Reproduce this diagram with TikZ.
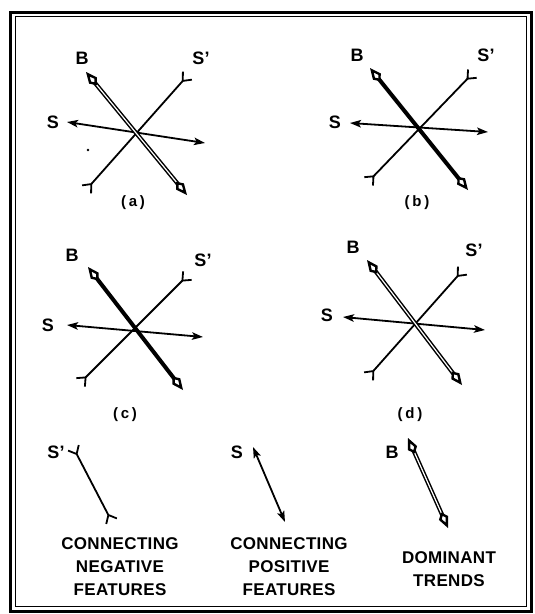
\documentclass[tikz,border=0pt]{standalone}
\usepackage{fontspec}
\newfontfamily\lblfont[LetterSpace=2]{Liberation Sans}
\newfontfamily\capfont[LetterSpace=18]{Liberation Sans}
\usetikzlibrary{arrows.meta,calc}
\tikzset{
  x=1pt, y=-1pt,
  lbl/.style={font=\lblfont\bfseries\fontsize{18}{20}\selectfont, inner sep=0pt},
  figcap/.style={font=\capfont\bfseries\fontsize{15}{17}\selectfont, inner sep=0pt},
  legend/.style={font=\lblfont\bfseries\fontsize{17}{23}\selectfont, align=center, inner sep=0pt},
  shead/.tip={Stealth[length=11pt,width=7.5pt,inset=2.5pt]},
  ptail/.tip={Straight Barb[reversed,length=7pt,width=12pt,line width=1.8pt]},
  bhead/.tip={Kite[fill=white,length=17pt,width=10pt,inset=6pt,line width=2.4pt]},
  sarrow/.style={line width=1.8pt, {shead}-{shead}},
  sprime/.style={line width=1.8pt, {ptail}-{ptail}},
  bsolid/.style={line width=4pt, {bhead}-{bhead}},
  bdouble/.style={line width=1.5pt, double=white, double distance=1.2pt, {bhead}-{bhead}},
}
\begin{document}
\begin{tikzpicture}
\useasboundingbox (0,0) rectangle (535,614);
% frame
\draw[line width=3pt] (10,12) rectangle (531,611);
\draw[line width=0.8pt] (15,16.5) rectangle (526.5,606.5);

% ---------- panel (a)
\coordinate (aB1) at (86,72);  \coordinate (aB2) at (187,195);
\coordinate (aS1) at (67,122); \coordinate (aS2) at (205,143);
\coordinate (aP1) at (188,75); \coordinate (aP2) at (86,190);
\draw[sprime] (aP1) -- (aP2);
\draw[sarrow] (aS1) -- (aS2);
\draw[bdouble] (aB1) -- (aB2);
\node[lbl] (aLB) at (82,58) {B};
\node[lbl] (aLP) at (201,58) {S’};
\node[lbl] (aLS) at (53,122) {S};
\node[figcap] (aCap) at (133,203) {(a)};
\fill (88,150) circle (1.4);

% ---------- panel (b)
\coordinate (bB1) at (370,68);  \coordinate (bB2) at (468,190);
\coordinate (bS1) at (350,123); \coordinate (bS2) at (488,132);
\coordinate (bP1) at (473,73);  \coordinate (bP2) at (368,182);
\draw[sprime] (bP1) -- (bP2);
\draw[sarrow] (bS1) -- (bS2);
\draw[bsolid] (bB1) -- (bB2);
\node[lbl] (bLB) at (357,55) {B};
\node[lbl] (bLP) at (486,55) {S’};
\node[lbl] (bLS) at (335,122) {S};
\node[figcap] (bCap) at (417,203) {(b)};

% ---------- panel (c)
\coordinate (cB1) at (88,267);  \coordinate (cB2) at (183,390);
\coordinate (cS1) at (67,325);  \coordinate (cS2) at (203,337);
\coordinate (cP1) at (188,275); \coordinate (cP2) at (80,383);
\draw[sprime] (cP1) -- (cP2);
\draw[sarrow] (cS1) -- (cS2);
\draw[bsolid] (cB1) -- (cB2);
\node[lbl] (cLB) at (72,255) {B};
\node[lbl] (cLP) at (203,260) {S’};
\node[lbl] (cLS) at (48,325) {S};
\node[figcap] (cCap) at (125,415) {(c)};

% ---------- panel (d)
\coordinate (dB1) at (367,260); \coordinate (dB2) at (462,385);
\coordinate (dS1) at (343,317); \coordinate (dS2) at (485,330);
\coordinate (dP1) at (463,270); \coordinate (dP2) at (368,377);
\draw[sprime] (dP1) -- (dP2);
\draw[sarrow] (dS1) -- (dS2);
\draw[bdouble] (dB1) -- (dB2);
\node[lbl] (dLB) at (353,247) {B};
\node[lbl] (dLP) at (474,250) {S’};
\node[lbl] (dLS) at (327,315) {S};
\node[figcap] (dCap) at (410,415) {(d)};

% ---------- legend
\coordinate (l1a) at (73,447);  \coordinate (l1b) at (112,522);
\coordinate (l2a) at (253,447); \coordinate (l2b) at (285,522);
\coordinate (l3a) at (408,438); \coordinate (l3b) at (448,528);
\draw[sprime] (l1a) -- (l1b);
\draw[sarrow] (l2a) -- (l2b);
\draw[bdouble] (l3a) -- (l3b);
\node[lbl] (lP) at (56,452) {S’};
\node[lbl] (lS) at (237,452) {S};
\node[lbl] (lB) at (392,452) {B};
\node[legend] (t1) at (120,567) {CONNECTING\\NEGATIVE\\FEATURES};
\node[legend] (t2) at (289,567) {CONNECTING\\POSITIVE\\FEATURES};
\node[legend] (t3) at (449,569) {DOMINANT\\TRENDS};
\end{tikzpicture}
\end{document}
